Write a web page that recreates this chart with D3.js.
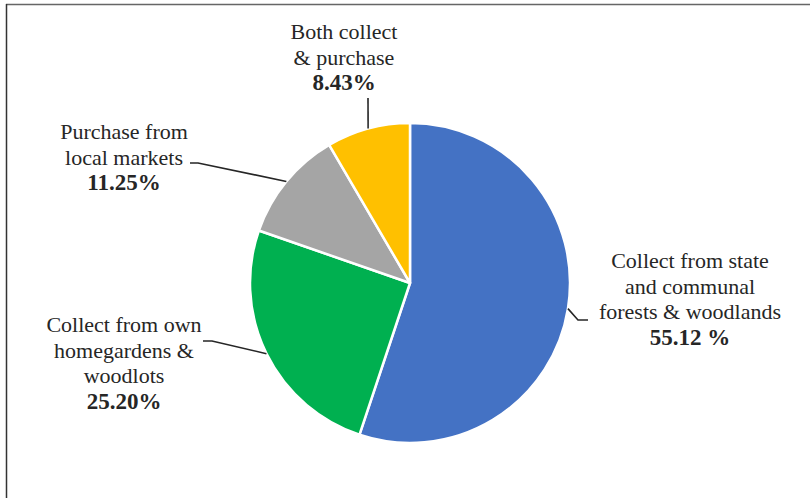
<!DOCTYPE html>
<html>
<head>
<meta charset="utf-8">
<script src="https://cdn.jsdelivr.net/npm/d3@7"></script>
<style>
  body { margin: 0; background: #fff; }
  svg text { font-family: "Liberation Serif", "DejaVu Serif", serif; fill: #262626; }
</style>
</head>
<body>
<div id="chart-area"></div>
<script>
var width = 810, height = 498;

// Data
var categories = ["Collect from state and communal forests & woodlands",
    "Collect from own homegardens & woodlots",
    "Purchase from local markets",
    "Both collect & purchase"];
var shares = [55.12, 25.20, 11.25, 8.43];
var labelLines = [
    ["Collect from state", "and communal", "forests & woodlands"],
    ["Collect from own", "homegardens &", "woodlots"],
    ["Purchase from", "local markets"],
    ["Both collect", "& purchase"]
];
var shareLabels = ["55.12 %", "25.20%", "11.25%", "8.43%"];
var colours = ["#4472C4", "#00B050", "#A5A5A5", "#FFC000"];

// Label layout: text centre x, first baseline y, leader elbow
var labelLayout = [
    { x: 690, y: 268, elbow: [578, 320], end: [588, 320] },
    { x: 124, y: 332, elbow: [212, 341], end: [203, 341] },
    { x: 124, y: 139, elbow: [198, 163], end: [190, 163] },
    { x: 344, y: 39,  elbow: null,       end: [368, 98] }
];

var cx = 410, cy = 283, radius = 160;

var svg = d3.select("#chart-area").append("svg")
    .attr("width", width)
    .attr("height", height);

// frame (top and left edges only)
svg.append("line")
    .attr("x1", 6).attr("x2", width).attr("y1", 4.5).attr("y2", 4.5)
    .attr("stroke", "#666").attr("stroke-width", 1.5);
svg.append("line")
    .attr("x1", 6.5).attr("x2", 6.5).attr("y1", 4).attr("y2", height)
    .attr("stroke", "#333").attr("stroke-width", 1.5);

var g = svg.append("g")
    .attr("transform", "translate(" + cx + "," + cy + ")");

var pie = d3.pie().sort(null).value(function(d) { return d; });
var arc = d3.arc().innerRadius(0).outerRadius(radius);
var arcs = pie(shares);

g.selectAll("path.slice")
    .data(arcs)
    .enter().append("path")
    .attr("class", "slice")
    .attr("d", arc)
    .attr("fill", function(d, i) { return colours[i]; })
    .attr("stroke", "#fff")
    .attr("stroke-width", 2.5)
    .attr("stroke-linejoin", "round");

// Leader lines
arcs.forEach(function(d, i) {
    var a = (d.startAngle + d.endAngle) / 2;
    var px = cx + radius * Math.sin(a),
        py = cy - radius * Math.cos(a);
    var lay = labelLayout[i];
    var pts = [[px, py]];
    if (lay.elbow) pts.push(lay.elbow);
    pts.push(lay.end);
    svg.append("path")
        .attr("d", d3.line()(pts))
        .attr("fill", "none")
        .attr("stroke", "#262626")
        .attr("stroke-width", 1.6);
});

// Labels
labelLines.forEach(function(lines, i) {
    var lay = labelLayout[i];
    var t = svg.append("text")
        .attr("text-anchor", "middle")
        .attr("font-size", "22px");
    lines.forEach(function(line, j) {
        t.append("tspan")
            .attr("x", lay.x)
            .attr("y", lay.y + j * 25.5)
            .text(line);
    });
    t.append("tspan")
        .attr("x", lay.x)
        .attr("y", lay.y + lines.length * 25.5)
        .attr("font-weight", "bold")
        .attr("font-size", "23px")
        .text(shareLabels[i]);
});
</script>
</body>
</html>
